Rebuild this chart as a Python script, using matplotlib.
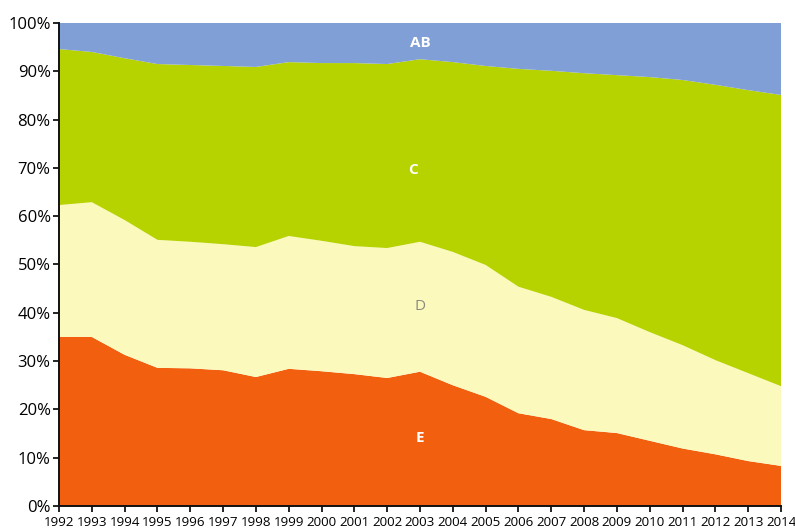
import matplotlib
matplotlib.use("Agg")
import matplotlib.pyplot as plt
import numpy as np
from matplotlib.ticker import PercentFormatter

# ── Data: share of each class per year (%) ─────────────────────────
years = list(range(1992, 2015))
share_E = [35.0, 35.0, 31.3, 28.6, 28.5, 28.1, 26.7, 28.4, 27.9, 27.3, 26.5, 27.8,
           25.0, 22.6, 19.2, 18.0, 15.7, 15.1, 13.5, 11.9, 10.7, 9.3, 8.3]
share_D = [27.3, 27.9, 27.9, 26.5, 26.2, 26.1, 26.9, 27.5, 27.0, 26.5, 26.9, 26.9,
           27.6, 27.3, 26.2, 25.3, 24.9, 23.8, 22.5, 21.4, 19.5, 18.2, 16.5]
share_C = [32.3, 31.1, 33.5, 36.4, 36.6, 36.9, 37.3, 36.0, 36.8, 37.9, 38.1, 37.8,
           39.3, 41.2, 45.1, 46.8, 49.0, 50.3, 52.8, 54.9, 57.0, 58.6, 60.3]
share_AB = [5.4, 6.0, 7.3, 8.5, 8.7, 8.9, 9.1, 8.1, 8.3, 8.3, 8.5, 7.5,
            8.1, 8.9, 9.5, 9.9, 10.4, 10.8, 11.2, 11.8, 12.8, 13.9, 14.9]

labels = ["E", "D", "C", "AB"]

# ── Colours ────────────────────────────────────────────────────────
ORANGE = "#f2600f"
CREAM = "#fcf9bc"
GREEN = "#b6d300"
BLUE = "#809fd7"

plt.rcParams["font.family"] = ["Open Sans", "DejaVu Sans"]

fig = plt.figure(figsize=(7.95, 5.32), dpi=100)
ax = fig.add_axes([0.0742, 0.0489, 0.9082, 0.9079])

ax.stackplot(years, share_E, share_D, share_C, share_AB,
             colors=[ORANGE, CREAM, GREEN, BLUE], labels=labels, linewidth=0)

ax.set_xlim(years[0], years[-1])
ax.set_ylim(0, 100)
ax.set_xticks(years)
ax.set_xticklabels([str(y) for y in years], fontsize=9.6)
ax.set_yticks(np.arange(0, 101, 10))
ax.yaxis.set_major_formatter(PercentFormatter(decimals=0))
ax.tick_params(axis="y", labelsize=12, length=4, width=1.2, pad=2)
ax.tick_params(axis="x", length=4, width=1.2, pad=3)

for side in ["top", "right"]:
    ax.spines[side].set_visible(False)
for side in ["left", "bottom"]:
    ax.spines[side].set_linewidth(1.4)
    ax.spines[side].set_color("#111111")

# ── Layer labels ───────────────────────────────────────────────────
ax.text(2003, 95.8, "AB", color="white", fontweight="bold", fontsize=11,
        ha="center", va="center")
ax.text(2002.8, 69.6, "C", color="white", fontweight="bold", fontsize=11,
        ha="center", va="center")
ax.text(2003, 41.2, "D", color="#8a8a80", fontsize=11,
        ha="center", va="center")
ax.text(2003, 14.1, "E", color="white", fontweight="bold", fontsize=11,
        ha="center", va="center")

fig.savefig("out.png", dpi=100)
